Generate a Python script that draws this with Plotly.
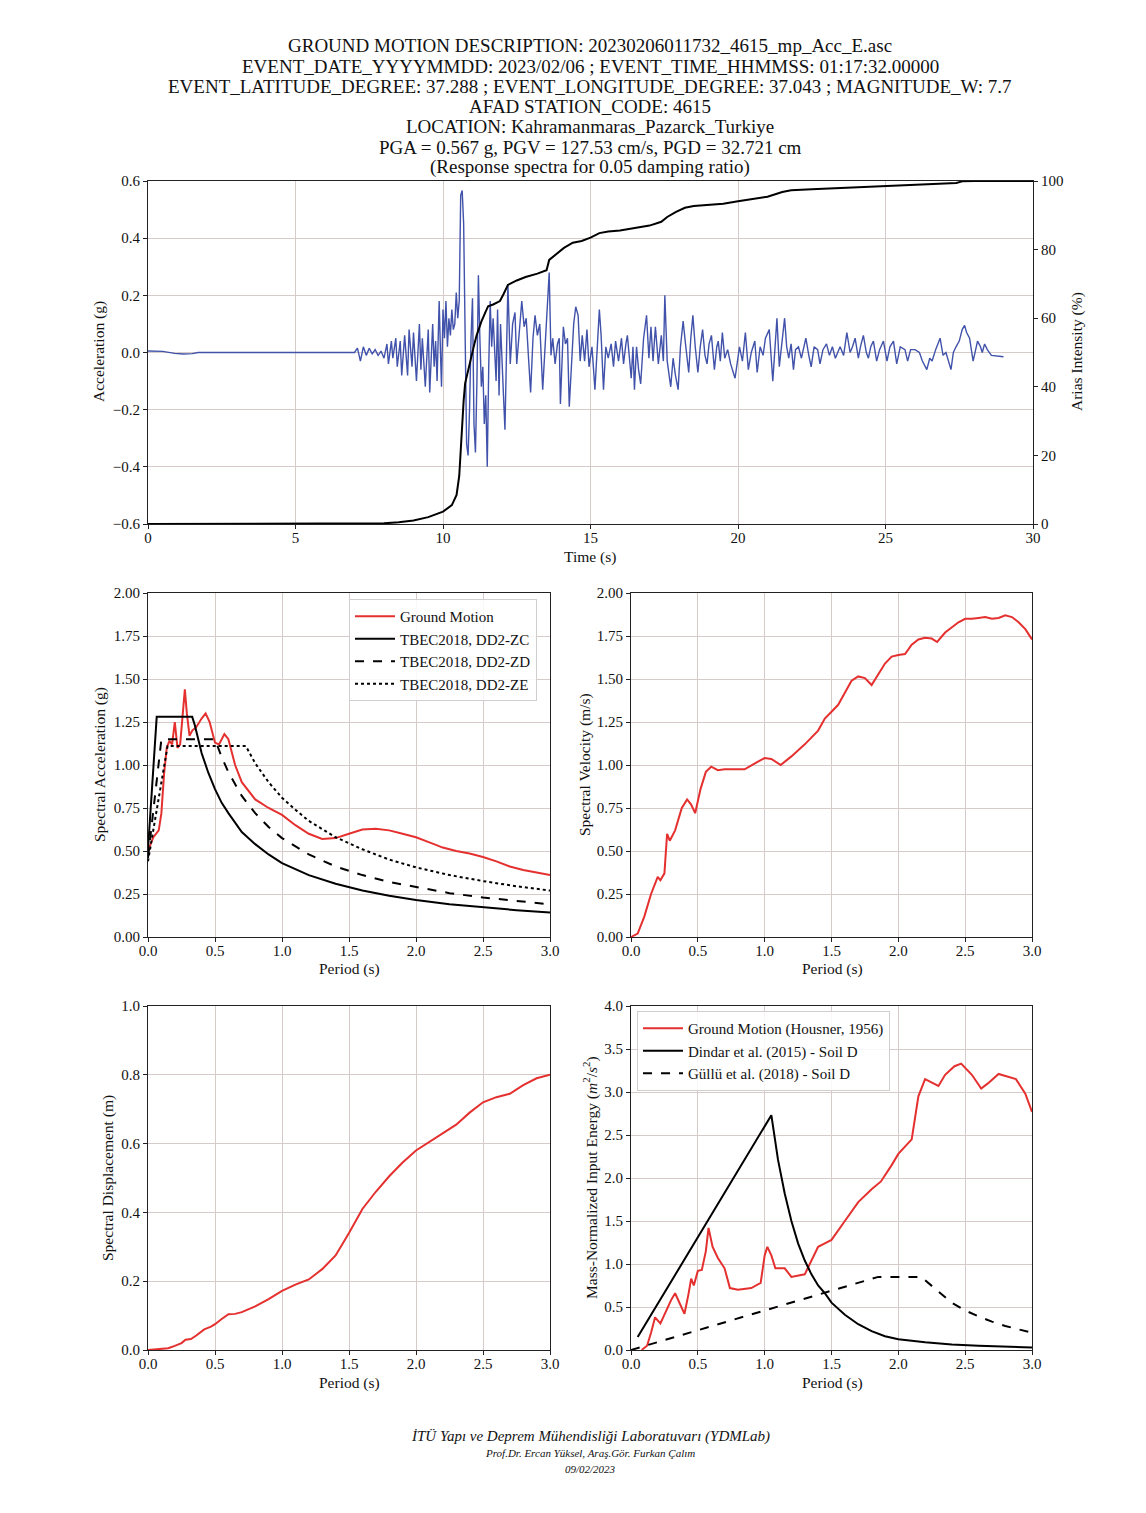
import plotly.graph_objects as go

W, H = 1146, 1513
OFF = 8  # browser body margin
FW, FH = W - 2 * OFF, H - 2 * OFF

# ---------------- data ----------------
acc_t = [0.0, 0.5, 0.9, 1.2, 1.5, 1.7, 7.0, 7.1, 7.2, 7.3, 7.4, 7.5, 7.6, 7.7, 7.8, 7.9,
         8.0, 8.1, 8.15, 8.25, 8.3, 8.4, 8.45, 8.55, 8.6, 8.7, 8.8, 8.85, 8.95, 9.0, 9.1, 9.2,
         9.25, 9.3, 9.4, 9.5, 9.55, 9.65, 9.7, 9.75, 9.8, 9.87, 9.92, 9.95, 10.0, 10.05, 10.1,
         10.15, 10.2, 10.25, 10.3, 10.35, 10.4, 10.45, 10.5, 10.55, 10.6, 10.65, 10.7, 10.75,
         10.8, 10.85, 10.9, 10.95, 11.0, 11.05, 11.1, 11.15, 11.2, 11.25, 11.3, 11.35, 11.4,
         11.45, 11.5, 11.55, 11.6, 11.65, 11.7, 11.8, 11.85, 11.9, 11.95, 12.05, 12.1, 12.2,
         12.28, 12.36, 12.44, 12.5, 12.58, 12.67, 12.75, 12.82, 12.9, 12.97, 13.05, 13.12, 13.2,
         13.28, 13.38, 13.46, 13.53, 13.6, 13.66, 13.72, 13.8, 13.88, 13.94, 13.98, 14.08, 14.15,
         14.22, 14.28, 14.36, 14.43, 14.5, 14.58, 14.65, 14.72, 14.8, 14.88, 14.95, 15.05, 15.15,
         15.3, 15.36, 15.44, 15.52, 15.6, 15.7, 15.78, 15.85, 15.95, 16.05, 16.12, 16.2, 16.25,
         16.32, 16.38, 16.44, 16.49, 16.56, 16.63, 16.7, 16.8, 16.9, 16.98, 17.05, 17.12, 17.2,
         17.3, 17.4, 17.47, 17.52, 17.6, 17.72, 17.8, 17.88, 17.97, 18.05, 18.14, 18.22, 18.33,
         18.4, 18.47, 18.55, 18.64, 18.72, 18.8, 18.88, 18.95, 19.02, 19.1, 19.2, 19.28, 19.33,
         19.4, 19.47, 19.55, 19.65, 19.75, 19.9, 19.98, 20.05, 20.15, 20.25, 20.35, 20.45, 20.57,
         20.65, 20.75, 20.85, 20.93, 21.06, 21.18, 21.25, 21.32, 21.4, 21.48, 21.58, 21.65, 21.72,
         21.8, 21.88, 21.95, 22.05, 22.15, 22.3, 22.4, 22.48, 22.58, 22.7, 22.78, 22.88, 23.0,
         23.1, 23.2, 23.3, 23.46, 23.58, 23.69, 23.8, 23.88, 23.97, 24.08, 24.15, 24.25, 24.35,
         24.42, 24.5, 24.59, 24.7, 24.8, 24.93, 25.05, 25.15, 25.27, 25.38, 25.5, 25.66, 25.75,
         25.85, 26.0, 26.15, 26.25, 26.4, 26.5, 26.58, 26.7, 26.85, 26.95, 27.05, 27.22, 27.3,
         27.39, 27.5, 27.6, 27.68, 27.75, 27.85, 27.97, 28.05, 28.12, 28.22, 28.28, 28.36, 28.45,
         28.59, 28.8, 29.0]
acc_g = [0.005, 0.004, -0.003, -0.005, -0.004, 0.0, 0.0, 0.015, -0.03, 0.02, -0.01, 0.015, -0.005, 0.01, -0.01, 0.005,
         -0.02, 0.03, -0.04, 0.04, -0.02, 0.05, -0.05, 0.04, -0.08, 0.06, -0.08, 0.08, -0.05, 0.07, -0.1, 0.1,
         -0.06, 0.05, -0.12, 0.08, -0.14, 0.1, -0.05, 0.04, -0.1, 0.18, -0.02, -0.12, 0.15, 0.05, 0.18,
         0.02, 0.12, 0.06, 0.15, 0.08, 0.1, 0.21, 0.12, 0.18, 0.55, 0.567, 0.45, -0.05,
         -0.32, -0.36, -0.2, 0.05, 0.19, -0.25, -0.35, -0.1, 0.27, 0.05, -0.12, -0.05, -0.25,
         -0.15, -0.40, -0.05, 0.18, 0.02, 0.12, -0.1, 0.15, -0.15, 0.1, -0.15, -0.27, 0.24,
         -0.04, 0.1, 0.14, -0.04, 0.05, 0.18, 0.09, 0.12, -0.02, -0.14, 0.05, 0.13, 0.06,
         0.1, -0.13, 0.0, 0.15, 0.28, -0.01, 0.05, -0.04, 0.03, 0.05, -0.18, 0.09, 0.03,
         0.05, -0.19, -0.05, 0.1, 0.16, 0.13, -0.03, 0.06, -0.03, 0.08, -0.05, 0.02, -0.13,
         0.15, 0.06, -0.13, 0.02, -0.02, 0.03, -0.05, 0.04, -0.03, 0.05, -0.04, 0.03, 0.06,
         -0.02, -0.09, 0.02, -0.13, 0.02, -0.06, -0.11, 0.05, 0.13, -0.02, 0.09, -0.03, 0.09,
         -0.04, 0.06, -0.03, 0.2, -0.03, -0.12, -0.02, -0.08, -0.13, 0.02, 0.11, 0.03, -0.07,
         0.05, 0.13, 0.02, -0.07, 0.02, 0.08, -0.01, -0.04, 0.03, 0.06, -0.06, 0.02, 0.04,
         -0.03, 0.07, -0.02, 0.01, -0.04, -0.09, -0.02, 0.02, -0.03, 0.07, -0.06, 0.0, 0.04,
         -0.07, 0.02, -0.01, 0.05, 0.08, -0.1, 0.0, 0.12, -0.05, 0.03, 0.12, 0.02, -0.02,
         0.03, -0.06, 0.01, 0.02, -0.02, 0.05, -0.01, -0.05, 0.02, 0.01, -0.04, 0.01, 0.03,
         -0.01, 0.02, -0.02, 0.02, -0.01, 0.07, 0.0, 0.02, 0.05, -0.02, 0.02, 0.06, 0.0,
         -0.02, 0.02, 0.04, -0.03, 0.01, 0.04, -0.03, 0.02, 0.04, -0.04, 0.02, 0.01, -0.03,
         0.01, 0.01, 0.0, -0.03, -0.06, -0.02, -0.03, 0.01, 0.05, -0.01, 0.0, -0.06, 0.0,
         0.02, 0.04, 0.08, 0.095, 0.07, 0.05, -0.03, 0.01, 0.04, 0.02, 0.0, 0.03, 0.01,
         -0.01, -0.012, -0.015]

arias_t = [0, 7.0, 8.0, 8.5, 9.0, 9.5, 10.0, 10.3, 10.46, 10.55, 10.6, 10.65, 10.7, 10.75, 10.85,
           10.93, 11.05, 11.14, 11.3, 11.45, 11.53, 11.7, 11.93, 12.05, 12.2, 12.5, 12.8, 13.2,
           13.51, 13.6, 13.8, 14.1, 14.4, 14.7, 15.0, 15.3, 15.6, 16.0, 16.5, 17.0, 17.4, 17.6,
           17.9, 18.2, 18.5, 19.0, 19.5, 20.0, 20.5, 21.0, 21.5, 21.8, 22.5, 23.0, 24.0, 25.0,
           26.0, 27.0, 27.4, 27.6, 28.0, 30.0]
arias_pct = [0, 0, 0.2, 0.5, 1.0, 2.0, 3.6, 5.5, 8.5, 14, 22, 30, 36, 41, 45,
             48, 52, 55, 59, 62, 63.5, 64, 65, 67, 69.7, 71, 72, 73,
             74, 77, 78.5, 80.5, 82, 82.5, 83.5, 84.8, 85.3, 85.6, 86.3, 87, 88.1, 89.5,
             91, 92.2, 92.7, 93, 93.4, 94.1, 94.7, 95.4, 96.8, 97.3, 97.6, 97.8, 98.1, 98.4,
             98.8, 99.2, 99.4, 99.9, 100, 100]

sa_T = [0.0, 0.04, 0.08, 0.1, 0.12, 0.14, 0.16, 0.18, 0.2, 0.22, 0.24, 0.26, 0.275, 0.29, 0.31,
        0.33, 0.36, 0.4, 0.43, 0.46, 0.5, 0.53, 0.57, 0.6, 0.65, 0.7, 0.8, 0.9, 1.0, 1.1, 1.2,
        1.3, 1.4, 1.5, 1.6, 1.7, 1.8, 1.9, 2.0, 2.1, 2.2, 2.3, 2.4, 2.5, 2.6, 2.7, 2.8, 2.9, 3.0]
sa_gm = [0.5, 0.58, 0.62, 0.72, 0.95, 1.10, 1.14, 1.12, 1.25, 1.10, 1.12, 1.30, 1.44, 1.30, 1.17,
         1.20, 1.22, 1.27, 1.30, 1.25, 1.13, 1.12, 1.18, 1.15, 1.00, 0.90, 0.80, 0.75, 0.71, 0.65, 0.60,
         0.57, 0.575, 0.60, 0.625, 0.63, 0.62, 0.60, 0.58, 0.55, 0.52, 0.50, 0.485, 0.465, 0.44, 0.41, 0.39, 0.375, 0.36]

zc_T = [0.0, 0.065, 0.33, 0.35, 0.4, 0.45, 0.5, 0.55, 0.6, 0.7, 0.8, 0.9, 1.0, 1.2, 1.4, 1.6, 1.8,
        2.0, 2.25, 2.5, 2.75, 3.0]
zc_sa = [0.51, 1.28, 1.28, 1.23, 1.07, 0.955, 0.86, 0.78, 0.72, 0.61, 0.54, 0.48, 0.43, 0.36, 0.31,
         0.27, 0.24, 0.215, 0.19, 0.172, 0.156, 0.143]
zd_T = [0.0, 0.1, 0.5, 0.55, 0.6, 0.7, 0.8, 0.9, 1.0, 1.2, 1.4, 1.6, 1.8, 2.0, 2.25, 2.5, 2.75, 3.0]
zd_sa = [0.46, 1.15, 1.15, 1.045, 0.958, 0.82, 0.72, 0.64, 0.575, 0.48, 0.41, 0.36, 0.32, 0.29,
         0.255, 0.23, 0.21, 0.19]
ze_T = [0.0, 0.146, 0.73, 0.8, 0.9, 1.0, 1.1, 1.2, 1.4, 1.6, 1.8, 2.0, 2.25, 2.5, 2.75, 3.0]
ze_sa = [0.44, 1.11, 1.11, 1.01, 0.90, 0.81, 0.74, 0.675, 0.58, 0.51, 0.45, 0.405, 0.36, 0.325, 0.295, 0.27]

sv_T = [0.0, 0.05, 0.1, 0.15, 0.2, 0.22, 0.25, 0.27, 0.29, 0.33, 0.38, 0.42, 0.45, 0.48, 0.52, 0.56,
        0.6, 0.65, 0.7, 0.85, 0.95, 1.0, 1.05, 1.12, 1.2, 1.3, 1.4, 1.45, 1.5, 1.55, 1.6, 1.65,
        1.7, 1.75, 1.8, 1.85, 1.9, 1.95, 2.0, 2.05, 2.1, 2.15, 2.2, 2.25, 2.29, 2.35, 2.4, 2.45,
        2.5, 2.55, 2.6, 2.65, 2.7, 2.75, 2.8, 2.85, 2.9, 2.95, 3.0]
sv_ms = [0.0, 0.02, 0.12, 0.25, 0.35, 0.33, 0.37, 0.60, 0.56, 0.62, 0.75, 0.80, 0.77, 0.72, 0.86, 0.96,
         0.99, 0.97, 0.975, 0.975, 1.02, 1.04, 1.035, 1.00, 1.05, 1.12, 1.20, 1.27, 1.31, 1.35, 1.42, 1.49,
         1.515, 1.505, 1.465, 1.53, 1.59, 1.63, 1.64, 1.645, 1.70, 1.73, 1.74, 1.735, 1.715, 1.77, 1.80, 1.83,
         1.85, 1.85, 1.855, 1.86, 1.85, 1.855, 1.87, 1.86, 1.83, 1.79, 1.73]

sd_T = [0.0, 0.1, 0.15, 0.2, 0.25, 0.28, 0.32, 0.36, 0.42, 0.47, 0.5, 0.55, 0.6, 0.65, 0.7, 0.8,
        0.9, 1.0, 1.1, 1.2, 1.3, 1.4, 1.5, 1.6, 1.7, 1.8, 1.9, 2.0, 2.1, 2.2, 2.3, 2.4, 2.5,
        2.6, 2.7, 2.8, 2.9, 3.0]
sd_m = [0.0, 0.002, 0.005, 0.012, 0.02, 0.03, 0.032, 0.042, 0.06, 0.068, 0.075, 0.09, 0.104, 0.105,
        0.11, 0.127, 0.148, 0.172, 0.19, 0.205, 0.235, 0.275, 0.34, 0.41, 0.46, 0.505, 0.545, 0.58,
        0.605, 0.63, 0.655, 0.69, 0.72, 0.735, 0.745, 0.77, 0.79, 0.80]

ei_T = [0.08, 0.12, 0.15, 0.18, 0.22, 0.26, 0.3, 0.33, 0.36, 0.4, 0.43, 0.45, 0.47, 0.5, 0.53,
        0.56, 0.58, 0.61, 0.65, 0.7, 0.74, 0.8, 0.9, 0.97, 1.0, 1.02, 1.05, 1.08, 1.15, 1.2,
        1.3, 1.35, 1.4, 1.45, 1.5, 1.6, 1.7, 1.8, 1.87, 1.95, 2.0, 2.1, 2.15, 2.2, 2.3, 2.35,
        2.42, 2.47, 2.55, 2.62, 2.67, 2.75, 2.82, 2.88, 2.95, 3.0]
ei_gm = [0.0, 0.05, 0.2, 0.38, 0.31, 0.45, 0.58, 0.66, 0.55, 0.42, 0.65, 0.83, 0.75, 0.92, 0.93,
         1.15, 1.42, 1.2, 1.07, 0.95, 0.72, 0.70, 0.72, 0.78, 1.1, 1.2, 1.1, 0.95, 0.95, 0.85,
         0.88, 1.05, 1.2, 1.24, 1.28, 1.5, 1.72, 1.87, 1.96, 2.15, 2.28, 2.45, 2.95, 3.15, 3.07, 3.2,
         3.3, 3.33, 3.2, 3.04, 3.1, 3.21, 3.18, 3.15, 2.98, 2.77]
dindar_T = [0.05, 1.05, 1.1, 1.15, 1.2, 1.25, 1.3, 1.35, 1.4, 1.45, 1.5, 1.6, 1.7, 1.8, 1.9, 2.0,
            2.2, 2.4, 2.6, 2.8, 3.0]
dindar_E = [0.15, 2.73, 2.21, 1.82, 1.50, 1.24, 1.04, 0.88, 0.75, 0.66, 0.55, 0.41, 0.30, 0.22,
            0.16, 0.125, 0.09, 0.065, 0.05, 0.038, 0.03]
gullu_T = [0.0, 1.85, 2.17, 2.3, 2.4, 2.5, 2.6, 2.7, 2.8, 2.9, 3.0]
gullu_E = [0.0, 0.85, 0.85, 0.68, 0.55, 0.46, 0.39, 0.33, 0.28, 0.24, 0.2]

title_lines = [
    "GROUND MOTION DESCRIPTION: 20230206011732_4615_mp_Acc_E.asc",
    "EVENT_DATE_YYYYMMDD: 2023/02/06 ; EVENT_TIME_HHMMSS: 01:17:32.00000",
    "EVENT_LATITUDE_DEGREE: 37.288 ; EVENT_LONGITUDE_DEGREE: 37.043 ; MAGNITUDE_W: 7.7",
    "AFAD STATION_CODE: 4615",
    "LOCATION: Kahramanmaras_Pazarck_Turkiye",
    "PGA = 0.567 g, PGV = 127.53 cm/s, PGD = 32.721 cm",
    "(Response spectra for 0.05 damping ratio)",
]

# ---------------- styling ----------------
FONT = "Liberation Serif, Times New Roman, serif"
RED = "#e4302f"
BLUE = "#4152aa"
GRID = "#d6cbc8"


def px(x):
    return (x - OFF) / FW


def py(y):
    return 1 - (y - OFF) / FH


def axis(dom, rng, dtick, fmt, **kw):
    d = dict(domain=dom, range=rng, dtick=dtick, tick0=0, tickformat=fmt,
             showgrid=True, gridcolor=GRID, gridwidth=1, zeroline=False,
             showline=True, linecolor="#222", linewidth=1, mirror=True,
             ticks="outside", ticklen=4, tickcolor="#222",
             tickfont=dict(family=FONT, size=15, color="#111"), automargin=False)
    d.update(kw)
    return d


def xaxis(dom, rng, dtick, fmt, **kw):
    return axis(dom, rng, dtick, fmt, ticklabelstandoff=-4, **kw)


XL = [px(148), px(550)]
XR = [px(631), px(1032)]
Y_TOP = [py(524), py(181)]
Y_MID = [py(937), py(593)]
Y_BOT = [py(1350), py(1006)]

fig = go.Figure()

# top: acceleration + arias
fig.add_trace(go.Scatter(x=acc_t, y=acc_g, mode="lines", line=dict(color=BLUE, width=1.4),
                         xaxis="x", yaxis="y", showlegend=False))
fig.add_trace(go.Scatter(x=arias_t, y=arias_pct, mode="lines", line=dict(color="black", width=2),
                         xaxis="x", yaxis="y2", showlegend=False))

# spectral acceleration
fig.add_trace(go.Scatter(x=sa_T, y=sa_gm, mode="lines", name="Ground Motion",
                         line=dict(color=RED, width=2), xaxis="x3", yaxis="y3", legend="legend"))
fig.add_trace(go.Scatter(x=zc_T, y=zc_sa, mode="lines", name="TBEC2018, DD2-ZC",
                         line=dict(color="black", width=2), xaxis="x3", yaxis="y3", legend="legend"))
fig.add_trace(go.Scatter(x=zd_T, y=zd_sa, mode="lines", name="TBEC2018, DD2-ZD",
                         line=dict(color="black", width=2, dash="dash"), xaxis="x3", yaxis="y3", legend="legend"))
fig.add_trace(go.Scatter(x=ze_T, y=ze_sa, mode="lines", name="TBEC2018, DD2-ZE",
                         line=dict(color="black", width=2, dash="dot"), xaxis="x3", yaxis="y3", legend="legend"))

# spectral velocity
fig.add_trace(go.Scatter(x=sv_T, y=sv_ms, mode="lines", line=dict(color=RED, width=2),
                         xaxis="x4", yaxis="y4", showlegend=False))
# spectral displacement
fig.add_trace(go.Scatter(x=sd_T, y=sd_m, mode="lines", line=dict(color=RED, width=2),
                         xaxis="x5", yaxis="y5", showlegend=False))
# input energy
fig.add_trace(go.Scatter(x=ei_T, y=ei_gm, mode="lines", name="Ground Motion (Housner, 1956)",
                         line=dict(color=RED, width=2), xaxis="x6", yaxis="y6", legend="legend2"))
fig.add_trace(go.Scatter(x=dindar_T, y=dindar_E, mode="lines", name="Dindar et al. (2015) - Soil D",
                         line=dict(color="black", width=2), xaxis="x6", yaxis="y6", legend="legend2"))
fig.add_trace(go.Scatter(x=gullu_T, y=gullu_E, mode="lines", name="Güllü et al. (2018) - Soil D",
                         line=dict(color="black", width=2, dash="dash"), xaxis="x6", yaxis="y6", legend="legend2"))

legend_style = dict(font=dict(family=FONT, size=15, color="#111"), bgcolor="rgba(255,255,255,0.85)",
                    bordercolor="#cfcfcf", borderwidth=1, xanchor="left", yanchor="top",
                    tracegroupgap=0, itemwidth=40)

annotations = []
for i, line in enumerate(title_lines):
    annotations.append(dict(text=line, x=px(590), y=py(46 + i * 20.2), xref="paper", yref="paper",
                            xanchor="center", yanchor="middle", showarrow=False,
                            font=dict(family=FONT, size=19, color="#111")))


def lab(text, x, y, angle=0, size=15.5):
    annotations.append(dict(text=text, x=px(x), y=py(y), xref="paper", yref="paper",
                            xanchor="center", yanchor="middle", showarrow=False, textangle=angle,
                            font=dict(family=FONT, size=size, color="#111")))


lab("Time (s)", 590, 557)
lab("Acceleration (g)", 99, 352, -90)
lab("Arias Intensity (%)", 1077, 352, -90)
lab("Period (s)", 349, 969)
lab("Spectral Acceleration (g)", 100, 765, -90)
lab("Period (s)", 832, 969)
lab("Spectral Velocity (m/s)", 585, 765, -90)
lab("Period (s)", 349, 1383)
lab("Spectral Displacement (m)", 108, 1178, -90)
lab("Period (s)", 832, 1383)
lab("Mass-Normalized Input Energy (<i>m</i><sup>2</sup>/<i>s</i><sup>2</sup>)", 590, 1178, -90)

annotations.append(dict(text="<i>İTÜ Yapı ve Deprem Mühendisliği Laboratuvarı (YDMLab)</i>",
                        x=px(590), y=py(1436), xref="paper", yref="paper", xanchor="center",
                        yanchor="middle", showarrow=False, font=dict(family=FONT, size=15, color="#111")))
annotations.append(dict(text="<i>Prof.Dr. Ercan Yüksel, Araş.Gör. Furkan Çalım</i>",
                        x=px(590), y=py(1453), xref="paper", yref="paper", xanchor="center",
                        yanchor="middle", showarrow=False, font=dict(family=FONT, size=11, color="#111")))
annotations.append(dict(text="<i>09/02/2023</i>",
                        x=px(590), y=py(1469), xref="paper", yref="paper", xanchor="center",
                        yanchor="middle", showarrow=False, font=dict(family=FONT, size=11, color="#111")))

fig.update_layout(
    width=FW, height=FH, margin=dict(l=0, r=0, t=0, b=0),
    paper_bgcolor="white", plot_bgcolor="white",
    font=dict(family=FONT, color="#111"),
    xaxis=xaxis([px(148), px(1033)], [0, 30], 5, "d", anchor="y"),
    yaxis=axis(Y_TOP, [-0.6, 0.6], 0.2, ".1f", anchor="x", mirror=False),
    yaxis2=axis(Y_TOP, [0, 100], 20, "d", anchor="x", overlaying="y", side="right", showgrid=False,
                mirror=False),
    xaxis3=xaxis(XL, [0, 3], 0.5, ".1f", anchor="y3"),
    yaxis3=axis(Y_MID, [0, 2], 0.25, ".2f", anchor="x3"),
    xaxis4=xaxis(XR, [0, 3], 0.5, ".1f", anchor="y4"),
    yaxis4=axis(Y_MID, [0, 2], 0.25, ".2f", anchor="x4"),
    xaxis5=xaxis(XL, [0, 3], 0.5, ".1f", anchor="y5"),
    yaxis5=axis(Y_BOT, [0, 1], 0.2, ".1f", anchor="x5"),
    xaxis6=xaxis(XR, [0, 3], 0.5, ".1f", anchor="y6"),
    yaxis6=axis(Y_BOT, [0, 4], 0.5, ".1f", anchor="x6"),
    legend=dict(x=px(349), y=py(599), **legend_style),
    legend2=dict(x=px(637), y=py(1011), **legend_style),
    annotations=annotations,
)

fig.write_html("out.html")
